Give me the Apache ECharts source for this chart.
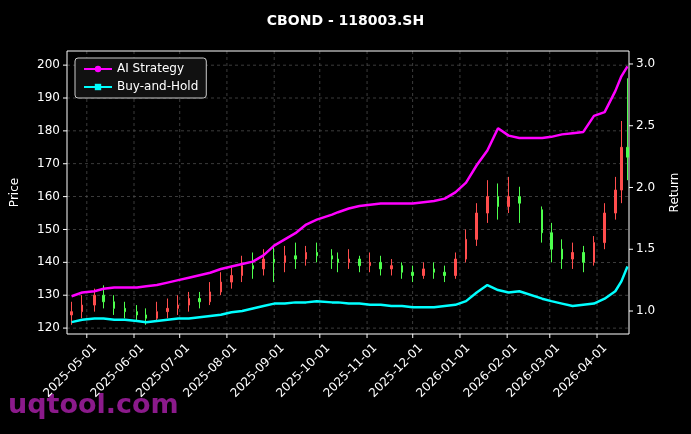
<!DOCTYPE html>
<html>
<head>
<meta charset="utf-8">
<script src="https://cdn.jsdelivr.net/npm/echarts@6/dist/echarts.min.js"></script>
<style>html,body{margin:0;background:#000;}#main{width:691px;height:434px;}</style>
</head>
<body>
<div id="main"></div>
<script>
// weekly samples
var dates = ['2025-04-21','2025-04-28','2025-05-06','2025-05-12','2025-05-19','2025-05-26','2025-06-03','2025-06-09','2025-06-16','2025-06-23',
  '2025-06-30','2025-07-07','2025-07-14','2025-07-21','2025-07-28','2025-08-04','2025-08-11','2025-08-18','2025-08-25','2025-09-01',
  '2025-09-08','2025-09-15','2025-09-22','2025-09-29','2025-10-09','2025-10-13','2025-10-20','2025-10-27','2025-11-03','2025-11-10',
  '2025-11-17','2025-11-24','2025-12-01','2025-12-08','2025-12-15','2025-12-22','2025-12-29','2026-01-05','2026-01-12','2026-01-19',
  '2026-01-26','2026-02-02','2026-02-09','2026-02-24','2026-03-02','2026-03-09','2026-03-16','2026-03-23','2026-03-30','2026-04-06',
  '2026-04-13','2026-04-17','2026-04-21'];
// [open, close, low, high]
var candles = [
  [124,125,121,128],[125,127,123,130],[127,130,125,132],[130,128,126,133],[128,126,124,130],[126,125,123,128],[125,124,122,127],[124,123,121,126],[123,125,122,128],[125,126,123,129],
  [126,127,124,130],[127,129,125,131],[129,128,126,131],[128,131,127,134],[131,134,130,137],[134,136,132,139],[136,139,134,142],[139,138,135,143],[138,141,136,144],[141,140,134,145],
  [140,142,137,145],[142,141,138,146],[141,143,139,145],[143,142,140,146],[142,141,138,144],[141,140,137,143],[140,141,138,144],[141,139,137,142],[139,140,137,143],[140,138,136,142],
  [138,139,136,141],[139,137,135,140],[137,136,134,139],[136,138,135,140],[138,137,135,140],[137,136,134,139],[136,141,135,143],[141,147,140,150],[147,155,145,158],[155,160,152,165],
  [160,157,153,164],[157,160,155,166],[160,158,152,163],[156,149,146,157],[149,144,140,152],[144,141,138,147],[141,143,138,146],[143,140,137,145],[140,146,139,148],[146,155,144,158],
  [155,162,153,166],[162,175,158,183],[175,172,165,196]];
var aiRet = [1.12,1.15,1.16,1.18,1.19,1.19,1.19,1.20,1.21,1.23,
  1.25,1.27,1.29,1.31,1.34,1.36,1.38,1.40,1.45,1.53,
  1.58,1.63,1.70,1.74,1.78,1.80,1.83,1.85,1.86,1.87,
  1.87,1.87,1.87,1.88,1.89,1.91,1.96,2.04,2.18,2.30,
  2.48,2.42,2.40,2.40,2.41,2.43,2.44,2.45,2.58,2.61,
  2.78,2.90,2.98];
var bhRet = [0.91,0.93,0.94,0.94,0.93,0.93,0.92,0.91,0.92,0.93,
  0.94,0.94,0.95,0.96,0.97,0.99,1.00,1.02,1.04,1.06,
  1.06,1.07,1.07,1.08,1.07,1.07,1.06,1.06,1.05,1.05,
  1.04,1.04,1.03,1.03,1.03,1.04,1.05,1.08,1.15,1.21,
  1.17,1.15,1.16,1.10,1.08,1.06,1.04,1.05,1.06,1.10,
  1.16,1.24,1.36];
var monthTicks = ['2025-05-01','2025-06-01','2025-07-01','2025-08-01','2025-09-01','2025-10-01','2025-11-01','2025-12-01','2026-01-01','2026-02-01','2026-03-01','2026-04-01'];
var priceTicks = [120, 130, 140, 150, 160, 170, 180, 190, 200];
var retTicks = [1.0, 1.5, 2.0, 2.5, 3.0];

function pair(arr) { return arr.map(function (v, i) { return [dates[i], v]; }); }
var kData = candles.map(function (c, i) { return [dates[i]].concat(c); });
var tickMs = monthTicks.map(function (d) { return +new Date(d + 'T00:00:00'); });

var L = 67, R = 629, T = 51, B = 334;
var chart = echarts.init(document.getElementById('main'));
var txt = {color: '#fff', fontSize: 12, fontFamily: 'DejaVu Sans'};
var hidden = {axisLine: {show: false}, axisTick: {show: false}, axisLabel: {show: false}, splitLine: {show: false}};
chart.setOption({
  backgroundColor: '#000',
  animation: false,
  title: {text: 'CBOND - 118003.SH', left: 'center', top: 9, textStyle: {color: '#fff', fontSize: 14, fontWeight: 'bold', fontFamily: 'DejaVu Sans'}},
  legend: {
    left: 75, top: 58, orient: 'vertical', itemGap: 6, itemWidth: 28, itemHeight: 8,
    backgroundColor: '#111', borderColor: '#ccc', borderWidth: 1, borderRadius: 3, padding: [5, 8],
    textStyle: txt, data: ['AI Strategy', 'Buy-and-Hold']
  },
  grid: {left: L, right: 691 - R, top: T, bottom: 434 - B},
  xAxis: Object.assign({type: 'time', min: '2025-04-18', max: '2026-04-22'}, hidden),
  yAxis: [
    Object.assign({type: 'value', min: 118.2, max: 204.3, name: 'Price', nameLocation: 'middle', nameGap: 46, nameTextStyle: txt}, hidden),
    Object.assign({type: 'value', min: 0.814, max: 3.105, name: 'Return', nameLocation: 'middle', nameGap: 40, nameTextStyle: txt}, hidden)
  ],
  series: [{
    type: 'candlestick', data: kData, barMaxWidth: 2, yAxisIndex: 0,
    itemStyle: {color: '#ff4d4d', color0: '#4dff4d', borderColor: '#ff4d4d', borderColor0: '#4dff4d', borderWidth: 1}
  }, {
    name: 'AI Strategy', type: 'line', yAxisIndex: 1, data: pair(aiRet), showSymbol: false, symbol: 'circle', symbolSize: 6,
    lineStyle: {color: '#ff00ff', width: 2.5}, itemStyle: {color: '#ff00ff'}
  }, {
    name: 'Buy-and-Hold', type: 'line', yAxisIndex: 1, data: pair(bhRet), showSymbol: false, symbol: 'rect', symbolSize: 6,
    lineStyle: {color: '#00ffff', width: 2.5}, itemStyle: {color: '#00ffff'}
  }]
});

// axes, ticks, dashed grid and rotated labels placed through the axis scales
function drawAxes() {
  var g = [{type: 'text', left: 8, top: 392, style: {text: 'uqtool.com', fill: '#8b1a8b', font: 'bold 27px DejaVu Sans'}}];
  var dash = {stroke: '#555', lineDash: [3, 3], lineWidth: 0.7};
  tickMs.forEach(function (t, i) {
    var x = chart.convertToPixel({xAxisIndex: 0}, t);
    g.push({type: 'line', z: -1, shape: {x1: x, y1: T, x2: x, y2: B}, style: dash});
    g.push({type: 'line', shape: {x1: x, y1: B, x2: x, y2: B + 4}, style: {stroke: '#fff'}});
    g.push({type: 'text', x: x + 4, y: B + 8, rotation: Math.PI / 4, style: {text: monthTicks[i], fill: '#fff', font: '12px DejaVu Sans', align: 'right', verticalAlign: 'top'}});
  });
  priceTicks.forEach(function (p) {
    var y = chart.convertToPixel({yAxisIndex: 0}, p);
    g.push({type: 'line', z: -1, shape: {x1: L, y1: y, x2: R, y2: y}, style: dash});
    g.push({type: 'line', shape: {x1: L - 4, y1: y, x2: L, y2: y}, style: {stroke: '#fff'}});
    g.push({type: 'text', x: L - 7, y: y, style: {text: String(p), fill: '#fff', font: '12px DejaVu Sans', align: 'right', verticalAlign: 'middle'}});
  });
  retTicks.forEach(function (r) {
    var y = chart.convertToPixel({yAxisIndex: 1}, r);
    g.push({type: 'line', shape: {x1: R, y1: y, x2: R + 4, y2: y}, style: {stroke: '#fff'}});
    g.push({type: 'text', x: R + 7, y: y, style: {text: r.toFixed(1), fill: '#fff', font: '12px DejaVu Sans', align: 'left', verticalAlign: 'middle'}});
  });
  g.push({type: 'rect', shape: {x: L, y: T, width: R - L, height: B - T}, style: {fill: null, stroke: '#fff', lineWidth: 1}});
  chart.setOption({graphic: g});
}
drawAxes();
</script>
</body>
</html>
